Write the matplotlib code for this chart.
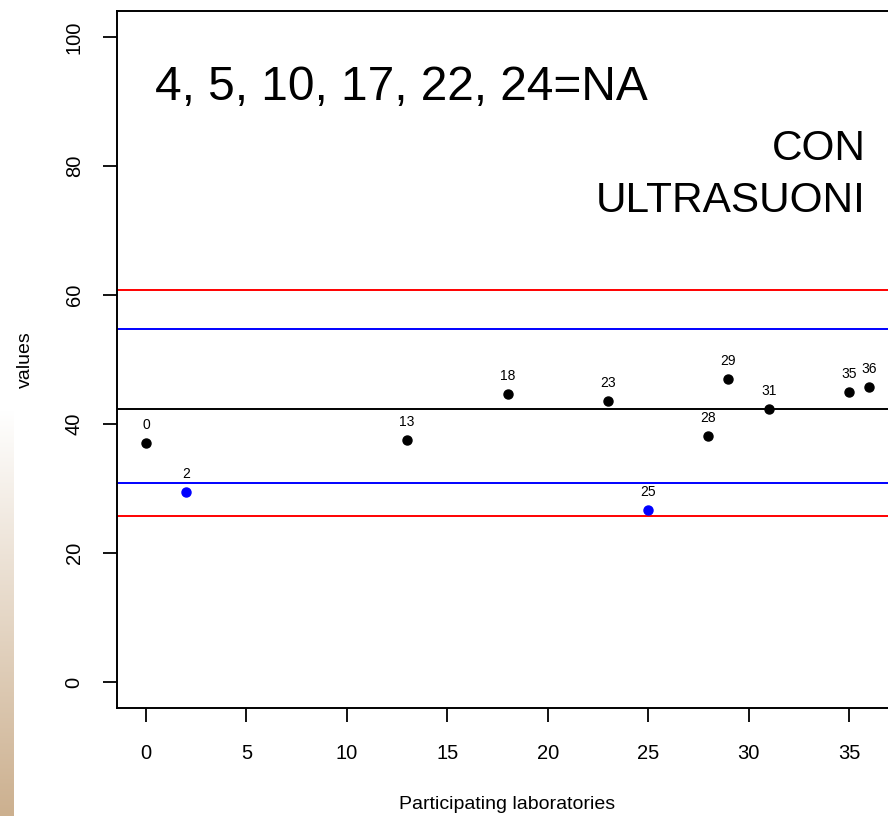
import numpy as np
import matplotlib
matplotlib.use("Agg")
import matplotlib.pyplot as plt
from matplotlib.colors import LinearSegmentedColormap

plt.rcParams['font.family'] = ['Liberation Sans', 'DejaVu Sans']

# participating labs and their values (NA labs left out)
labs = [0, 2, 13, 18, 23, 25, 28, 29, 31, 35, 36]
values = [37.0, 29.5, 37.5, 44.7, 43.5, 26.7, 38.2, 47.0, 42.3, 44.9, 45.8]
outside_inner = [2, 25]   # labs drawn in blue

# reference lines
center = 42.3
inner_limits = [30.9, 54.8]
outer_limits = [25.8, 60.8]

na_text = "4, 5, 10, 17, 22, 24=NA"
method_text = ["CON", "ULTRASUONI"]

W, H = 888, 816
fig = plt.figure(figsize=(W / 100, H / 100), dpi=100)

# brown gradient strip on the left edge
strip = fig.add_axes([0, 0, 14 / W, (H - 410) / H])
cmap = LinearSegmentedColormap.from_list("tan", ["#ffffff", "#ccb08f"])
strip.imshow(np.linspace(0, 1, 256).reshape(-1, 1), aspect='auto', cmap=cmap)
strip.axis('off')

ax = fig.add_axes([117 / W, (H - 708) / H, 781 / W, 697 / H])

for y in outer_limits:
    ax.axhline(y, color='#ff0000', lw=1.4)
for y in inner_limits:
    ax.axhline(y, color='#0000ff', lw=1.4)
ax.axhline(center, color='black', lw=1.4)

for lab, v in zip(labs, values):
    c = '#0000ff' if lab in outside_inner else 'black'
    ax.plot(lab, v, 'o', color=c, ms=6.5, mec=c)
    ax.annotate(str(lab), (lab, v), xytext=(0, 13), textcoords='offset points',
                ha='center', va='center', fontsize=10)

ax.set_xlim(-1.44, 37.44)
ax.set_ylim(-4, 104)
ax.set_xticks(np.arange(0, 36, 5))
ax.set_yticks(np.arange(0, 101, 20))
ax.set_yticklabels([str(t) for t in range(0, 101, 20)], rotation=90, va='center')
ax.tick_params(axis='both', length=10, width=1.3, labelsize=14.5)
ax.tick_params(axis='x', pad=16)
ax.tick_params(axis='y', pad=14)
for s in ax.spines.values():
    s.set_linewidth(1.4)

ax.set_xlabel("Participating laboratories", fontsize=14, labelpad=24)
ax.set_ylabel("values", fontsize=14, labelpad=22)

ax.text(0.049, 0.872, na_text, transform=ax.transAxes, fontsize=34.5,
        ha='left', va='baseline')
ax.text(0.959, 0.786, method_text[0], transform=ax.transAxes, fontsize=30.5,
        ha='right', va='baseline')
ax.text(0.959, 0.7116, method_text[1], transform=ax.transAxes, fontsize=30.5,
        ha='right', va='baseline')

fig.savefig("out.png", dpi=100)
